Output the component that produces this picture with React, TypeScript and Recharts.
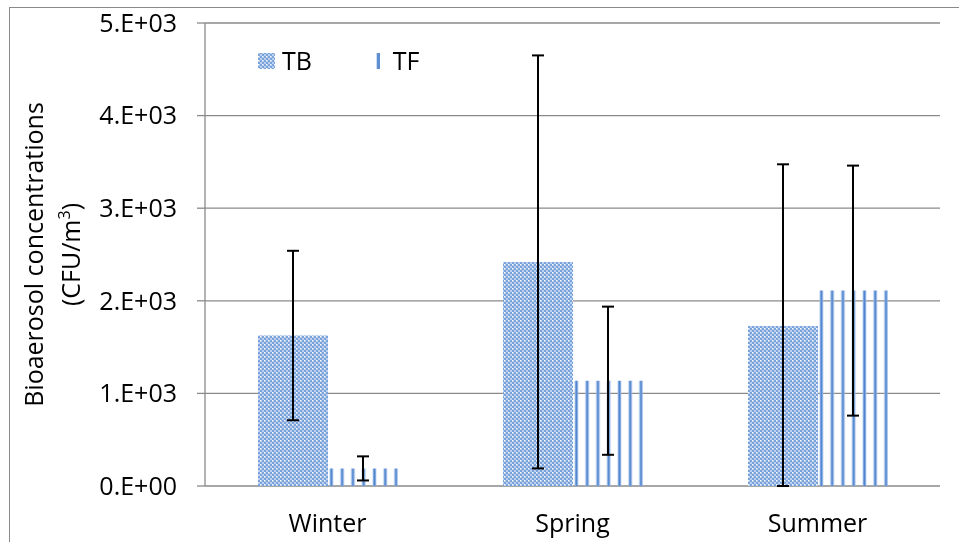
import React from 'react';
import { BarChart, Bar, XAxis, YAxis, CartesianGrid, ErrorBar, Legend } from 'recharts';

const seasons = ['Winter', 'Spring', 'Summer'];
const tbValues = [1625, 2420, 1728];
const tbErrors = [915, 2230, 1746];
const tfValues = [190, 1137, 2110];
const tfErrors = [130, 800, 1350];
const yTicks = [0, 1000, 2000, 3000, 4000, 5000];
const edgeTicks = [0, 1, 2, 3];
const seriesNames = ['TB', 'TF'];

// lower whisker is cut at the axis floor (0), as in the reference
const data = seasons.map((s, i) => ({
  season: s,
  TB: tbValues[i],
  tbErr: [Math.min(tbErrors[i], tbValues[i]), tbErrors[i]],
  TF: tfValues[i],
  tfErr: [Math.min(tfErrors[i], tfValues[i]), tfErrors[i]],
}));

const FONT = '"Open Sans", Calibri, sans-serif';
const GRID = '#8a8a8a';

const formatY = (v: number) => (v === 0 ? '0.E+00' : `${v / 1000}.E+03`);

const YLabel = (props: any) => {
  const vb = props.viewBox || {};
  const cy = vb.y + vb.height / 2;
  return (
    <text transform="rotate(-90)" textAnchor="middle" fontFamily={FONT} fontSize={25} fill="#000">
      <tspan x={-cy} y={35}>Bioaerosol concentrations</tspan>
      <tspan x={-cy} y={72}>
        (CFU/m<tspan fontSize={16} dy={-10}>3</tspan><tspan dy={10}>)</tspan>
      </tspan>
    </text>
  );
};

const LegendContent = (props: any) => {
  const payload = props.payload || [];
  return (
    <svg width={220} height={34} style={{ overflow: 'visible', display: 'block' }}>
      {payload.map((p: any, i: number) => {
        const isTB = p.value === 'TB';
        const x0 = isTB ? 0 : 118.7;
        return (
          <g key={p.value}>
            {isTB ? (
              <rect x={x0} y={5} width={17} height={16} fill="url(#tbDots)" />
            ) : (
              <rect x={x0} y={5} width={3.3} height={16} fill="#5f8fd3" />
            )}
            <text x={x0 + (isTB ? 24 : 16)} y={22} fontFamily={FONT} fontSize={25} fill="#000">
              {p.value}
            </text>
          </g>
        );
      })}
    </svg>
  );
};

export default function App() {
  return (
    <div style={{ position: 'fixed', left: 8, top: 7, width: 951, height: 535, overflow: 'hidden' }}>
      <div
        style={{
          position: 'absolute',
          left: 1,
          top: 0,
          width: 3000,
          height: 3000,
          borderLeft: `1px solid ${GRID}`,
          borderTop: `1px solid ${GRID}`,
        }}
      />
      <div style={{ position: 'absolute', left: 0, top: 1 }}>
        <BarChart
          width={943}
          height={533}
          data={data}
          margin={{ top: 15, right: 11, left: 0, bottom: 5 }}
          barGap={0}
          barSize={70}
        >
          <defs>
            <pattern id="tbDots" patternUnits="userSpaceOnUse" width={4} height={4}>
              <rect x={0} y={0} width={4} height={4} fill="#7aa2db" />
              <rect x={0} y={0} width={2} height={2} fill="#bcd0ef" />
              <rect x={2} y={2} width={2} height={2} fill="#bcd0ef" />
              <rect x={0} y={0} width={1} height={1} fill="#ffffff" />
            </pattern>
            <pattern id="tfStripes" patternUnits="objectBoundingBox" x={0} y={0} width={1 / 6.5} height={1}>
              <rect x={1.6} y={0} width={3.6} height={2000} fill="#a3c0e9" />
              <rect x={2.5} y={0} width={1.8} height={2000} fill="#4f84cf" />
            </pattern>
          </defs>
          <CartesianGrid vertical={false} stroke={GRID} strokeWidth={1.3} />
          <XAxis
            xAxisId="edges"
            type="number"
            domain={[0, 3]}
            ticks={edgeTicks}
            allowDataOverflow
            height={0}
            tick={false}
            tickSize={8}
            axisLine={{ stroke: GRID, strokeWidth: 1.3 }}
            tickLine={{ stroke: GRID, strokeWidth: 1.3 }}
          />
          <XAxis
            dataKey="season"
            height={50}
            axisLine={false}
            tickLine={false}
            tickSize={8}
            tickMargin={20}
            tick={{ fontFamily: FONT, fontSize: 25, fill: '#000' }}
          />
          <YAxis
            width={197}
            domain={[0, 5000]}
            ticks={yTicks}
            allowDataOverflow
            tickFormatter={formatY}
            tickSize={8}
            tickMargin={20}
            tick={{ fontFamily: FONT, fontSize: 25, fill: '#000' }}
            axisLine={{ stroke: GRID, strokeWidth: 1.3 }}
            tickLine={{ stroke: GRID, strokeWidth: 1.3 }}
            label={{ content: YLabel }}
          />
          <Legend
            layout="horizontal"
            verticalAlign="middle"
            align="center"
            content={LegendContent}
            wrapperStyle={{ position: 'absolute', left: 250, top: 40, width: 220 }}
          />
          <Bar dataKey="TB" name={seriesNames[0]} fill="url(#tbDots)" isAnimationActive={false}>
            <ErrorBar dataKey="tbErr" width={6} stroke="#000" strokeWidth={2} isAnimationActive={false} />
          </Bar>
          <Bar dataKey="TF" name={seriesNames[1]} fill="url(#tfStripes)" isAnimationActive={false}>
            <ErrorBar dataKey="tfErr" width={6} stroke="#000" strokeWidth={2} isAnimationActive={false} />
          </Bar>
        </BarChart>
      </div>
    </div>
  );
}
